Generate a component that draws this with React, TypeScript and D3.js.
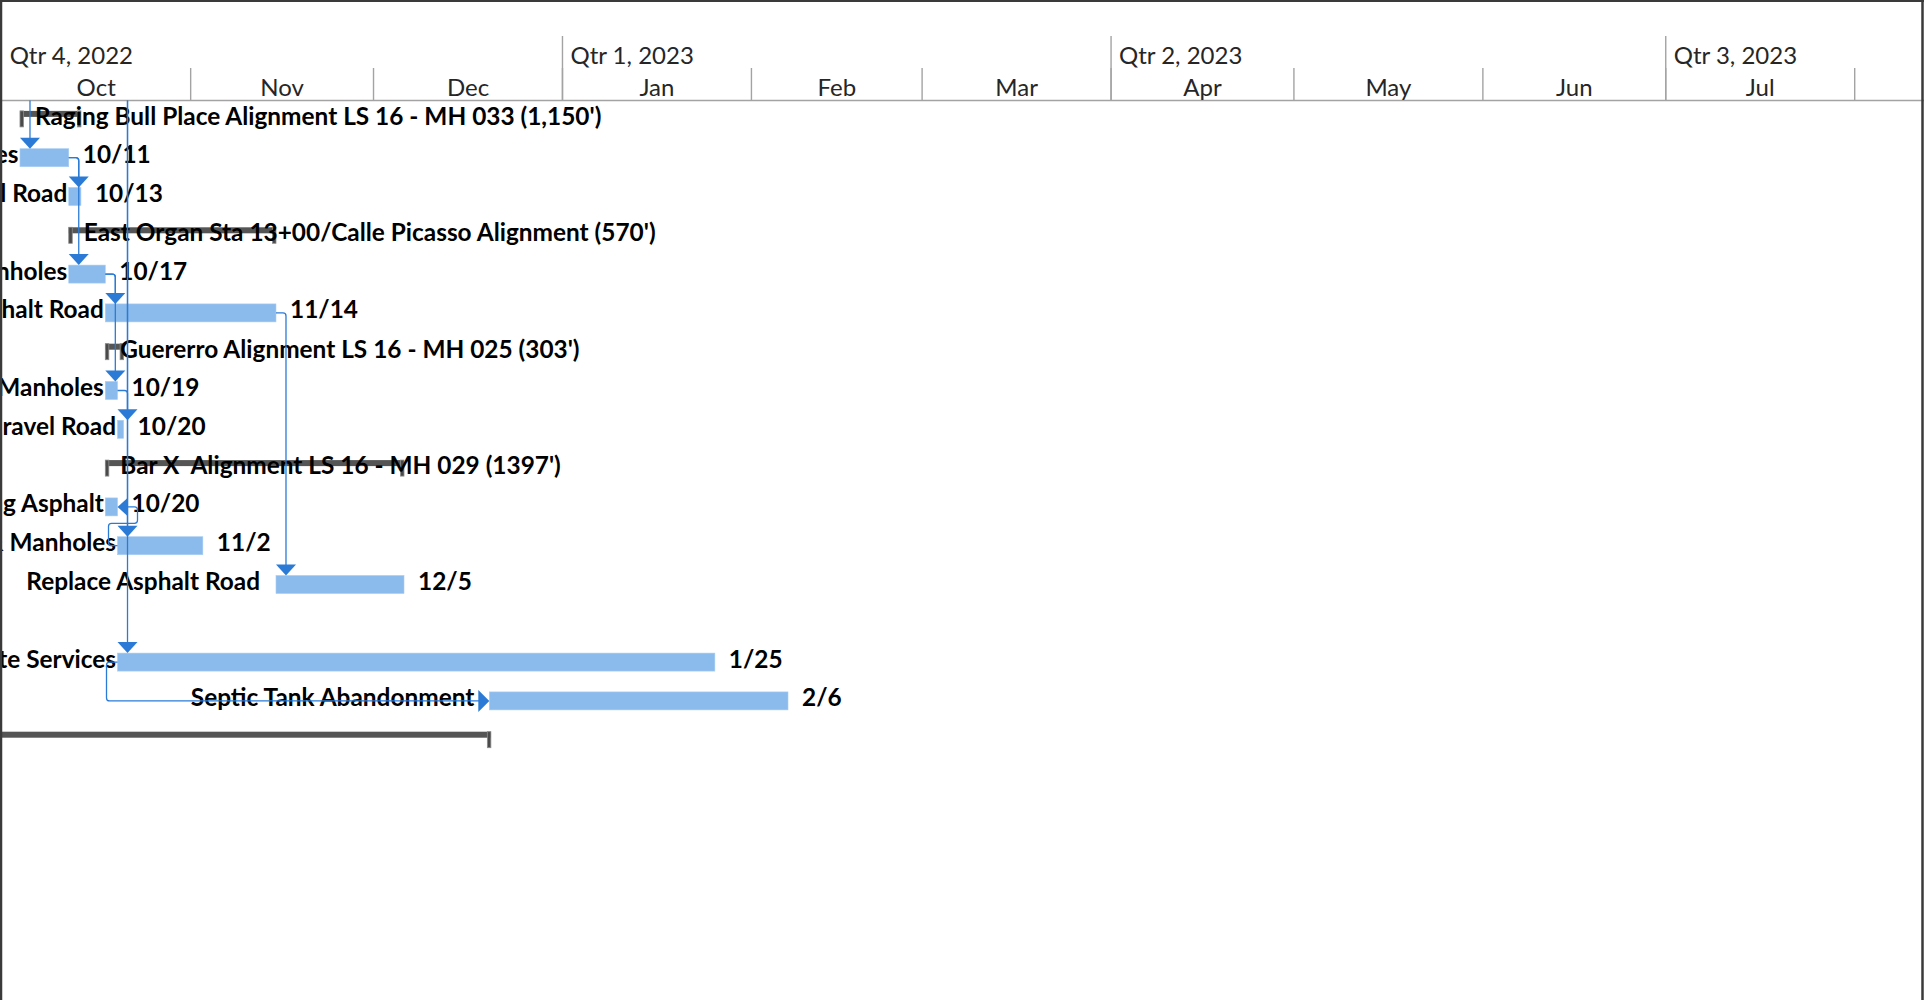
import React from "react";
import * as d3 from "d3";

// ---------- timescale labels ----------
const quarterLabels = ["Qtr 4, 2022", "Qtr 1, 2023", "Qtr 2, 2023", "Qtr 3, 2023"];
const quarterStarts = ["2022-10-01", "2023-01-01", "2023-04-01", "2023-07-01"];
const monthLabels = ["Oct", "Nov", "Dec", "Jan", "Feb", "Mar", "Apr", "May", "Jun", "Jul"];
const monthStarts = [
  "2022-10-01", "2022-11-01", "2022-12-01", "2023-01-01", "2023-02-01", "2023-03-01",
  "2023-04-01", "2023-05-01", "2023-06-01", "2023-07-01", "2023-08-01",
];

// ---------- tasks ----------
const taskNames = [
  "Raging Bull Place Alignment LS 16 - MH 033 (1,150')",
  "Install Sewer Main & Manholes",
  "Replace Gravel Road",
  "East Organ Sta 13+00/Calle Picasso Alignment (570')",
  "Install Sewer Main & Manholes",
  "Replace Asphalt Road",
  "Guererro Alignment LS 16 - MH 025 (303')",
  "Install Sewer Main & Manholes",
  "Replace Gravel Road",
  "Bar X  Alignment LS 16 - MH 029 (1397')",
  "Remove Existing Asphalt",
  "Install Sewer Main & Manholes",
  "Replace Asphalt Road",
  "",
  "Connect Private Services",
  "Septic Tank Abandonment",
  "",
];
const taskKinds = [
  "summary", "task", "task", "summary", "task", "task", "summary", "task", "task",
  "summary", "task", "task", "task", "none", "task", "task", "summary",
];
const taskStarts = [
  "2022-10-04", "2022-10-04", "2022-10-12", "2022-10-12", "2022-10-12", "2022-10-18",
  "2022-10-18", "2022-10-18", "2022-10-20", "2022-10-18", "2022-10-18", "2022-10-20",
  "2022-11-15", "", "2022-10-20", "2022-12-20", "2022-08-01",
];
const taskEnds = [
  "2022-10-14", "2022-10-12", "2022-10-14", "2022-11-15", "2022-10-18", "2022-11-15",
  "2022-10-21", "2022-10-20", "2022-10-21", "2022-12-06", "2022-10-20", "2022-11-03",
  "2022-12-06", "", "2023-01-26", "2023-02-07", "2022-12-20T06:00",
];
const finishLabels = [
  "", "10/11", "10/13", "", "10/17", "11/14", "", "10/19", "10/20", "", "10/20", "11/2",
  "12/5", "", "1/25", "2/6", "",
];

// ---------- links (-1 = predecessor above the visible area) ----------
const linkFrom = [-1, 1, 1, 4, 4, 7, 5, -1, -1, 11, 14];
const linkTo = [1, 2, 4, 5, 7, 8, 12, 11, 14, 10, 15];
const linkTypes = ["FS", "FS", "FS", "FS", "FS", "FS", "FS", "FS", "FS", "SF", "SS"];

// ---------- styles ----------
const FONT = "Lato, 'Open Sans', sans-serif";
const BAR = "#8bbbec";
const LINK = "#2b7bd6";
const SUMMARY = "#555555";
const GRID = "#a3a3a3";
const FS_TEXT = 24.4;

const parse = (s: string) => new Date(s.length > 10 ? s + ":00Z" : s + "T00:00:00Z");

function roundedPath(pts: [number, number][], r = 3): string {
  let d = `M${pts[0][0]},${pts[0][1]}`;
  for (let i = 1; i < pts.length - 1; i++) {
    const [px, py] = pts[i - 1];
    const [cx, cy] = pts[i];
    const [nx, ny] = pts[i + 1];
    const d1 = Math.hypot(cx - px, cy - py);
    const d2 = Math.hypot(nx - cx, ny - cy);
    const rr = Math.min(r, d1 / 2, d2 / 2);
    const ax = cx - ((cx - px) / d1) * rr;
    const ay = cy - ((cy - py) / d1) * rr;
    const bx = cx + ((nx - cx) / d2) * rr;
    const by = cy + ((ny - cy) / d2) * rr;
    d += `L${ax},${ay}Q${cx},${cy} ${bx},${by}`;
  }
  const last = pts[pts.length - 1];
  d += `L${last[0]},${last[1]}`;
  return d;
}

export default function App() {
  const W = 1924;
  const H = 1000;
  const headerBottom = 100.5;

  const x = d3
    .scaleUtc()
    .domain([parse("2022-10-01"), parse("2023-08-01")])
    .range([1.7, 1854.7]);

  const rows = d3.range(taskNames.length);
  const rowH = 38.8;
  const y = d3
    .scaleBand<number>()
    .domain(rows)
    .range([headerBottom - 1, headerBottom - 1 + rowH * rows.length])
    .paddingInner(0);
  const cy = (i: number) => (y(i) as number) + y.bandwidth() / 2;

  const barH = 18;
  const sx = (i: number) => x(parse(taskStarts[i]));
  const ex = (i: number) => x(parse(taskEnds[i]));

  // links -> paths and arrows
  const linkPaths: string[] = [];
  const arrows: string[] = [];
  const ssTargets = new Set<number>();
  linkFrom.forEach((f, k) => {
    const t = linkTo[k];
    const type = linkTypes[k];
    if (type === "FS") {
      const ax = sx(t) + 10;
      const top = cy(t) - barH / 2;
      if (f < 0) {
        linkPaths.push(roundedPath([[ax, headerBottom], [ax, top - 10]]));
      } else {
        const px = ex(f);
        linkPaths.push(roundedPath([[px, cy(f)], [ax, cy(f)], [ax, top - 10]]));
      }
      arrows.push(`M${ax - 10},${top - 11}L${ax + 10},${top - 11}L${ax},${top}Z`);
    } else if (type === "SF") {
      const s = sx(f);
      const e = ex(t);
      const mid = (cy(f) + cy(t)) / 2 - 3;
      linkPaths.push(
        roundedPath([
          [s, cy(f)],
          [s - 9, cy(f)],
          [s - 9, mid],
          [e + 20, mid],
          [e + 20, cy(t)],
          [e + 9, cy(t)],
        ])
      );
      arrows.push(`M${e + 10},${cy(t) - 9}L${e + 10},${cy(t) + 9}L${e},${cy(t)}Z`);
    } else if (type === "SS") {
      ssTargets.add(t);
      const s = sx(f);
      const s2 = sx(t);
      linkPaths.push(
        roundedPath([
          [s, cy(f)],
          [s - 11, cy(f)],
          [s - 11, cy(t)],
          [s2 - 10, cy(t)],
        ])
      );
      arrows.push(`M${s2 - 11},${cy(t) - 11}L${s2 - 11},${cy(t) + 11}L${s2},${cy(t)}Z`);
    }
  });

  const leftGap = (i: number) => (ssTargets.has(i) ? 15 : i === 12 ? 16 : 1.5);

  return (
    <svg
      width={W}
      height={H}
      style={{ position: "fixed", left: 0, top: 0, background: "#fff" }}
      fontFamily={FONT}
    >
      <rect x={0} y={0} width={W} height={H} fill="#fff" />

      {/* header grid */}
      {monthStarts.slice(1).map((m, i) => (
        <line
          key={"md" + i}
          x1={x(parse(m))}
          x2={x(parse(m))}
          y1={68}
          y2={headerBottom}
          stroke={GRID}
          strokeWidth={1.4}
        />
      ))}
      {quarterStarts.slice(1).map((q, i) => (
        <line
          key={"qd" + i}
          x1={x(parse(q))}
          x2={x(parse(q))}
          y1={36}
          y2={headerBottom}
          stroke={GRID}
          strokeWidth={1.4}
        />
      ))}
      <line x1={0} x2={W} y1={headerBottom} y2={headerBottom} stroke={GRID} strokeWidth={1.6} />

      {quarterLabels.map((q, i) => (
        <text key={"ql" + i} x={x(parse(quarterStarts[i])) + 8} y={63.5} fontSize={24} fill="#262626">
          {q}
        </text>
      ))}
      {monthLabels.map((m, i) => (
        <text
          key={"ml" + i}
          x={(x(parse(monthStarts[i])) + x(parse(monthStarts[i + 1]))) / 2}
          y={95.5}
          fontSize={24}
          textAnchor="middle"
          fill="#262626"
        >
          {m}
        </text>
      ))}

      {/* task bars */}
      {rows.map((i) =>
        taskKinds[i] === "task" ? (
          <rect
            key={"b" + i}
            x={sx(i)}
            y={cy(i) - barH / 2}
            width={ex(i) - sx(i)}
            height={barH}
            fill={BAR}
            stroke="#a9cdf2"
            strokeWidth={0.6}
          />
        ) : null
      )}

      {/* summary bars */}
      {rows.map((i) =>
        taskKinds[i] === "summary" ? (
          <g key={"s" + i}>
            <rect x={sx(i)} y={cy(i) - 8} width={ex(i) - sx(i)} height={6} fill={SUMMARY} />
            <rect x={sx(i)} y={cy(i) - 8} width={3.5} height={16} fill="#4a4a4a" stroke="#8c8c8c" strokeWidth={0.8} />
            <rect x={ex(i) - 3.5} y={cy(i) - 8} width={3.5} height={16} fill="#4a4a4a" stroke="#8c8c8c" strokeWidth={0.8} />
          </g>
        ) : null
      )}

      {/* texts */}
      {rows.map((i) => {
        if (taskKinds[i] === "summary") {
          return taskNames[i] ? (
            <text
              key={"t" + i}
              x={sx(i) + 15}
              y={cy(i) + 5.8}
              fontSize={FS_TEXT}
              fontWeight={700}
              fill="#000"
              style={{ whiteSpace: "pre" }}
            >
              {taskNames[i]}
            </text>
          ) : null;
        }
        if (taskKinds[i] === "task") {
          return (
            <g key={"t" + i} fontSize={FS_TEXT} fontWeight={700} fill="#000">
              <text x={sx(i) - leftGap(i)} y={cy(i) + 5.5} textAnchor="end" style={{ whiteSpace: "pre" }}>
                {taskNames[i]}
              </text>
              <text x={ex(i) + 14} y={cy(i) + 5.5}>
                {finishLabels[i]}
              </text>
            </g>
          );
        }
        return null;
      })}

      {/* links */}
      {linkPaths.map((d, k) => (
        <path key={"lp" + k} d={d} fill="none" stroke={LINK} strokeWidth={1.3} />
      ))}
      {arrows.map((d, k) => (
        <path key={"ar" + k} d={d} fill={LINK} />
      ))}

      {/* frame */}
      <line x1={0} x2={W} y1={1} y2={1} stroke="#3a3a3a" strokeWidth={2} />
      <line x1={1} x2={1} y1={0} y2={H} stroke="#3a3a3a" strokeWidth={2.5} />
      <line x1={1922.5} x2={1922.5} y1={0} y2={H} stroke="#3a3a3a" strokeWidth={2.5} />
    </svg>
  );
}
